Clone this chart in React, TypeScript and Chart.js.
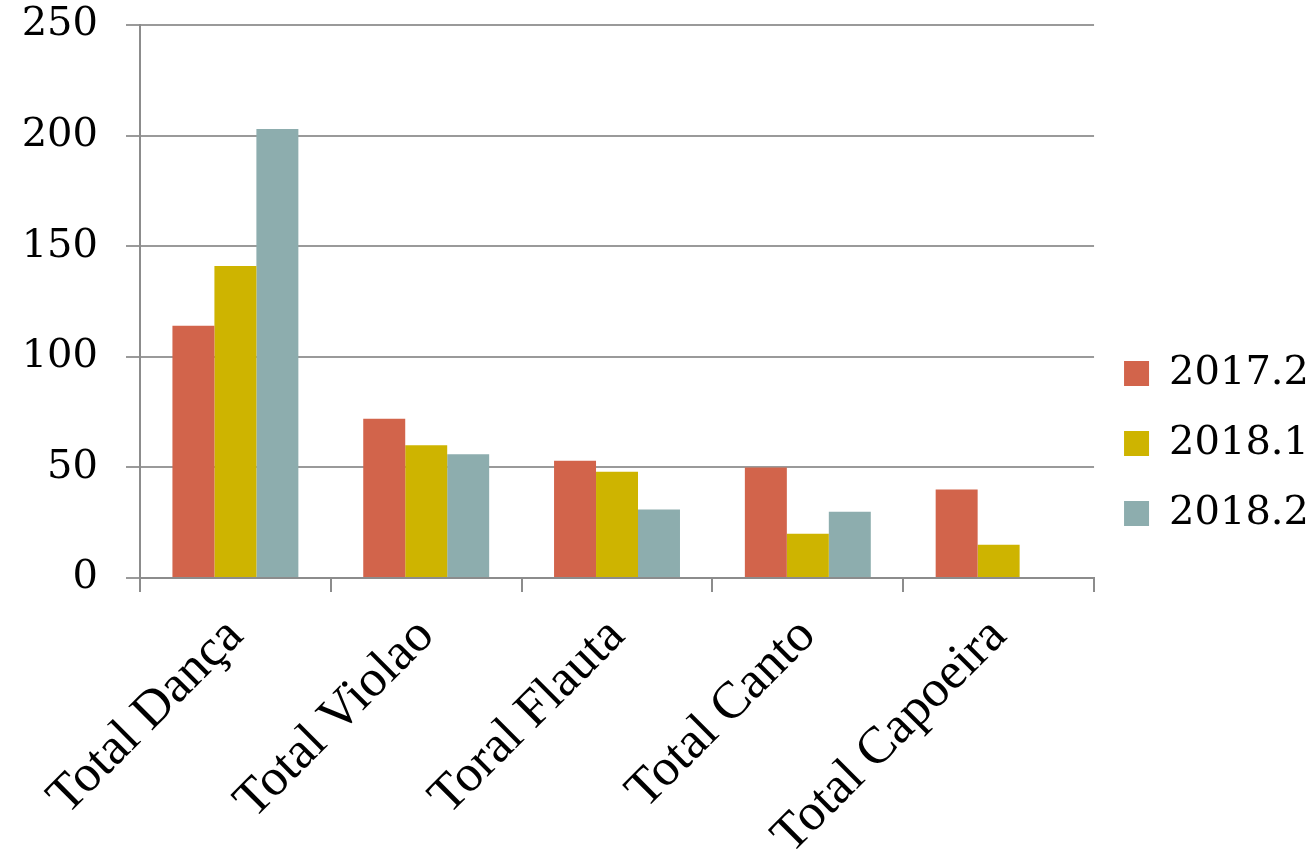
import React, { useEffect, useRef } from "react";
import { Chart, registerables } from "chart.js";

Chart.register(...registerables);

const categories = ["Total Dança", "Total Violao", "Toral Flauta", "Total Canto", "Total Capoeira"];
const seriesNames = ["2017.2", "2018.1", "2018.2"];
const values2017_2 = [114, 72, 53, 50, 40];
const values2018_1 = [141, 60, 48, 20, 15];
const values2018_2 = [203, 56, 31, 30, 0];
const colors = ["#D2644B", "#CEB400", "#8DADAE"];
const yTicks = [0, 50, 100, 150, 200, 250];

export default function App() {
  const ref = useRef<HTMLCanvasElement | null>(null);
  useEffect(() => {
    if (!ref.current) return;
    const series = [values2017_2, values2018_1, values2018_2];
    const chart = new Chart(ref.current, {
      type: "bar",
      data: {
        labels: categories,
        datasets: seriesNames.map((name, i) => ({
          label: name,
          data: series[i],
          backgroundColor: colors[i],
          borderWidth: 0,
          categoryPercentage: 0.66,
          barPercentage: 1.0,
        })),
      },
      options: {
        animation: false,
        responsive: true,
        maintainAspectRatio: false,
        layout: { padding: { left: 0, right: -5, top: 25, bottom: 0 } },
        plugins: {
          tooltip: { enabled: false },
          legend: {
            position: "right",
            align: "center",
            labels: {
              boxWidth: 25,
              boxHeight: 25,
              padding: 30,
              color: "#000",
              font: { family: "DejaVu Serif", size: 40 },
            },
          },
        },
        scales: {
          x: {
            grid: {
              drawOnChartArea: false,
              drawTicks: true,
              tickLength: 14,
              color: "#8c8c8c",
              lineWidth: 2,
              offset: true,
            },
            border: { display: true, color: "#8c8c8c", width: 2 },
            ticks: {
              color: "#000",
              maxRotation: 45,
              minRotation: 45,
              padding: 14,
              font: { family: "Liberation Serif", size: 52 },
            },
            afterFit: (scale: any) => {
              scale.height = 284;
            },
          },
          y: {
            min: 0,
            max: 250,
            afterBuildTicks: (scale: any) => {
              scale.ticks = yTicks.map((v) => ({ value: v }));
            },
            grid: {
              color: "#9a9a9a",
              lineWidth: 2,
              tickLength: 14,
            },
            border: { display: true, color: "#8c8c8c", width: 2 },
            ticks: {
              color: "#000",
              padding: 28,
              font: { family: "DejaVu Serif", size: 40 },
            },
            afterFit: (scale: any) => {
              scale.width = 140;
              scale.paddingTop = 0;
              scale.paddingBottom = 0;
            },
          },
        },
      },
    });
    return () => chart.destroy();
  }, []);
  return (
    <div style={{ position: "fixed", left: 0, top: 0, width: 1314, height: 862, background: "#fff" }}>
      <canvas ref={ref} />
    </div>
  );
}
